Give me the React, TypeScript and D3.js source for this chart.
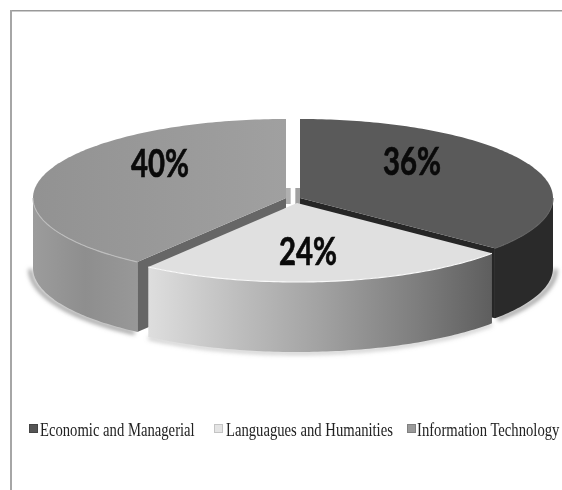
import React from "react";
import * as d3 from "d3";

const categories = ["Economic and Managerial", "Languagues and Humanities", "Information Technology"];
const shares = [36, 24, 40];
const percentLabels = ["36%", "24%", "40%"];

const WIDTH = 562;
const HEIGHT = 490;
const RX = 253;
const RY = 79;
const DEPTH = 70;
const DEG = Math.PI / 180;
const LEGEND_CONDENSE = 0.815;

// Pie centre of each wedge once pulled away from the middle
const apexes = [
  { x: 300, y: 198 },
  { x: 297, y: 203 },
  { x: 286, y: 198 },
];
const topFills = ["#5a5a5a", "#e0e0e0", "url(#grayTop)"];
const wallFills = ["#2a2a2a", "url(#lightWall)", "url(#grayWall)"];
const cutFills = ["#262626", "#c8c8c8", "#666666"];
const rimStrokes = ["#626262", "#fafafa", "#bdbdbd"];
const shadowShift = [
  { x: 2.5, y: 1 },
  { x: 0, y: 1 },
  { x: -2.5, y: 1 },
];
const labelAnchors = [
  { x: 412, y: 175 },
  { x: 308, y: 265 },
  { x: 160, y: 177 },
];
const legendMarkerX = [29, 214, 407];
const legendTextX = [40, 226, 417];
const markerFills = ["#555555", "#e4e4e4", "#9a9a9a"];
const markerStrokes = ["#444444", "#c4c4c4", "#808080"];

const arcs = d3.pie<number>().sort(null)(shares);

const xScale = d3.scaleLinear().domain([-1, 1]).range([-RX, RX]);
const yScale = d3.scaleLinear().domain([-1, 1]).range([-RY, RY]);
const lineGen = d3.line<[number, number]>();

function rimPoint(i: number, angle: number, drop = 0): [number, number] {
  return [
    apexes[i].x + xScale(Math.sin(angle)),
    apexes[i].y + yScale(-Math.cos(angle)) + drop,
  ];
}

function sweep(a0: number, a1: number): number[] {
  const n = Math.max(2, Math.ceil(Math.abs(a1 - a0) / DEG));
  return d3.range(n + 1).map((k) => a0 + ((a1 - a0) * k) / n);
}

function topPath(i: number): string {
  const { startAngle, endAngle } = arcs[i];
  const pts = sweep(startAngle, endAngle).map((a) => rimPoint(i, a));
  return lineGen([[apexes[i].x, apexes[i].y], ...pts])! + "Z";
}

// Only the part of the rim facing the viewer (90 to 270 degrees) has a visible wall
function frontRange(i: number): [number, number] {
  return [Math.max(arcs[i].startAngle, 90 * DEG), Math.min(arcs[i].endAngle, 270 * DEG)];
}

function wallPath(i: number): string {
  const [a0, a1] = frontRange(i);
  const angles = sweep(a0, a1);
  const upper = angles.map((a) => rimPoint(i, a));
  const lower = angles.slice().reverse().map((a) => rimPoint(i, a, DEPTH));
  return lineGen([...upper, ...lower])! + "Z";
}

function rimPath(i: number, drop = 0): string {
  const [a0, a1] = frontRange(i);
  return lineGen(sweep(a0, a1).map((a) => rimPoint(i, a, drop)))!;
}

function cutPath(i: number, angle: number): string {
  const { x, y } = apexes[i];
  const tip = rimPoint(i, angle);
  return lineGen([[x, y], tip, [tip[0], tip[1] + DEPTH], [x, y + DEPTH]])! + "Z";
}

export default function App() {
  const lightLeft = rimPoint(1, arcs[1].endAngle)[0];
  const lightRight = rimPoint(1, arcs[1].startAngle)[0];
  const grayLeft = apexes[2].x - RX;
  const grayRight = rimPoint(2, arcs[2].startAngle)[0];
  const midLeft = apexes[2].x;
  const midRight = apexes[0].x;
  const notchTop = apexes[2].y - 10;
  const notchH = 16;

  return (
    <svg
      width={WIDTH}
      height={HEIGHT}
      viewBox={`0 0 ${WIDTH} ${HEIGHT}`}
      style={{ position: "absolute", left: 0, top: 0, background: "#ffffff" }}
    >
      <defs>
        <linearGradient id="lightWall" gradientUnits="userSpaceOnUse" x1={lightLeft} x2={lightRight} y1={0} y2={0}>
          <stop offset="0" stopColor="#dedede" />
          <stop offset="0.25" stopColor="#bfbfbf" />
          <stop offset="0.5" stopColor="#a2a2a2" />
          <stop offset="0.78" stopColor="#7e7e7e" />
          <stop offset="1" stopColor="#5e5e5e" />
        </linearGradient>
        <linearGradient id="grayWall" gradientUnits="userSpaceOnUse" x1={grayLeft} x2={grayRight} y1={0} y2={0}>
          <stop offset="0" stopColor="#9c9c9c" />
          <stop offset="0.5" stopColor="#8e8e8e" />
          <stop offset="1" stopColor="#989898" />
        </linearGradient>
        <linearGradient id="grayTop" gradientUnits="userSpaceOnUse" x1={grayLeft} x2={midLeft} y1={0} y2={0}>
          <stop offset="0" stopColor="#929292" />
          <stop offset="1" stopColor="#a0a0a0" />
        </linearGradient>
        <filter id="softShadow" x="-10%" y="-40%" width="120%" height="180%">
          <feGaussianBlur stdDeviation="2" />
        </filter>
      </defs>

      {/* Chart frame: only the top and left borders are drawn */}
      <line x1={10} x2={WIDTH} y1={10.7} y2={10.7} stroke="#999999" strokeWidth={1.6} />
      <line x1={11} x2={11} y1={10} y2={HEIGHT} stroke="#a6a6a6" strokeWidth={2} />

      {/* Soft ground shadow following the lower edge of each wedge */}
      <g filter="url(#softShadow)" fill="none" stroke="#9a9a9a" strokeWidth={4}>
        {shares.map((_, i) => (
          <path
            key={i}
            d={rimPath(i, DEPTH)}
            opacity={i === 1 ? 0.5 : 1}
            transform={`translate(${shadowShift[i].x},${shadowShift[i].y})`}
          />
        ))}
      </g>

      {/* Inner faces showing through the gap between wedges */}
      <rect x={midLeft} y={notchTop} width={(midRight - midLeft) / 3} height={notchH} fill="#b0b0b0" />
      <rect x={midRight - (midRight - midLeft) / 3} y={notchTop} width={(midRight - midLeft) / 3} height={notchH} fill="#a0a0a0" />

      {/* Back wedges first, then the front one over their cut faces */}
      {[2, 0, 1].map((i) => {
        const cutAngle = i === 0 ? arcs[0].endAngle : arcs[i].startAngle;
        return (
          <g key={categories[i]}>
            {i !== 1 && <path d={cutPath(i, cutAngle)} fill={cutFills[i]} />}
            <path d={wallPath(i)} fill={wallFills[i]} />
            <path d={topPath(i)} fill={topFills[i]} />
            <path d={rimPath(i)} fill="none" stroke={rimStrokes[i]} strokeWidth={1.1} />
          </g>
        );
      })}

      {/* Share labels */}
      {percentLabels.map((t, i) => (
        <text
          key={t}
          x={labelAnchors[i].x}
          y={labelAnchors[i].y}
          textAnchor="middle"
          fontFamily="Lato, 'Open Sans', sans-serif"
          fontWeight={700}
          fontSize={39}
          textLength={58}
          lengthAdjust="spacingAndGlyphs"
          fill="#0a0a0a"
          stroke="#0a0a0a"
          strokeWidth={0.7}
        >
          {t}
        </text>
      ))}

      {/* Legend */}
      {categories.map((c, i) => (
        <g key={c}>
          <rect
            x={legendMarkerX[i] + 0.5}
            y={424.5}
            width={8}
            height={8}
            fill={markerFills[i]}
            stroke={markerStrokes[i]}
            strokeWidth={1}
          />
          <text
            transform={`translate(${legendTextX[i]},435.5) scale(${LEGEND_CONDENSE},1)`}
            fontFamily="'Liberation Serif', serif"
            fontSize={18}
            fill="#222222"
          >
            {c}
          </text>
        </g>
      ))}
    </svg>
  );
}
